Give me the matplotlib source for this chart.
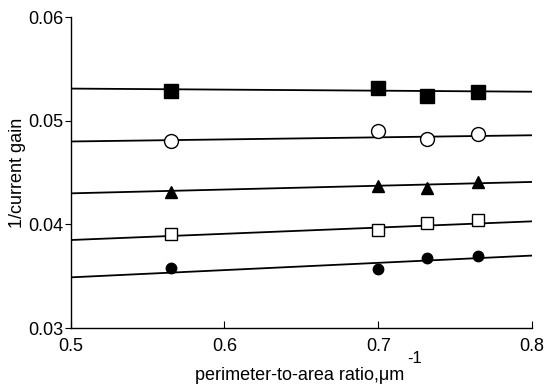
import numpy as np
import matplotlib
matplotlib.use('Agg')
import matplotlib.pyplot as plt

plt.rcParams['font.family'] = ['Liberation Sans', 'DejaVu Sans']

# perimeter-to-area ratio, um^-1
ratio = [0.565, 0.700, 0.732, 0.765]

# 1/current gain for the five device sets
filled_square = [0.0529, 0.0532, 0.0524, 0.0528]
open_circle = [0.0480, 0.0490, 0.0482, 0.0487]
filled_triangle = [0.0431, 0.0437, 0.0435, 0.0441]
open_square = [0.0391, 0.0395, 0.0401, 0.0404]
filled_circle = [0.0358, 0.0357, 0.0368, 0.0370]

# fitted lines, values at x = 0.5 and x = 0.8
fit_x = [0.5, 0.8]
fit_filled_square = [0.0531, 0.0528]
fit_open_circle = [0.0480, 0.0486]
fit_filled_triangle = [0.0430, 0.0441]
fit_open_square = [0.0385, 0.0403]
fit_filled_circle = [0.0349, 0.0370]

fig = plt.figure(figsize=(5.44, 3.87), dpi=100)
ax = fig.add_axes([0.13, 0.152, 0.848, 0.804])

series = [
    (filled_square, fit_filled_square, 's', 'black', 9.5),
    (open_circle, fit_open_circle, 'o', 'none', 10),
    (filled_triangle, fit_filled_triangle, '^', 'black', 8.5),
    (open_square, fit_open_square, 's', 'none', 8.5),
    (filled_circle, fit_filled_circle, 'o', 'black', 7.5),
]
for ys, fit, mk, fc, ms in series:
    ax.plot(fit_x, fit, color='black', lw=1.3, zorder=2)
    ax.plot(ratio, ys, linestyle='none', marker=mk, markersize=ms,
            markerfacecolor=fc if fc != 'none' else 'white',
            markeredgecolor='black', markeredgewidth=1.0, zorder=3)

ax.set_xlim(0.5, 0.8)
ax.set_ylim(0.03, 0.06)
ax.set_xticks([0.5, 0.6, 0.7, 0.8])
ax.set_xticklabels(['0.5', '0.6', '0.7', '0.8'])
ax.set_yticks([0.03, 0.04, 0.05, 0.06])
ax.set_yticklabels(['0.03', '0.04', '0.05', '0.06'])
ax.spines['top'].set_visible(False)
ax.spines['right'].set_visible(False)
ax.spines['left'].set_linewidth(1.0)
ax.spines['bottom'].set_linewidth(1.0)
ax.tick_params(axis='x', direction='in', length=5, labelsize=13, pad=7)
ax.tick_params(axis='y', direction='out', length=4, labelsize=13, pad=1)

ax.set_ylabel('1/current gain', fontsize=13, labelpad=2)
fig.text(0.551, 0.018, 'perimeter-to-area ratio,\u03bcm', fontsize=13,
         ha='center', va='baseline')
fig.text(0.763, 0.062, '-1', fontsize=12, ha='center', va='baseline')

fig.savefig('out.png', dpi=100)
